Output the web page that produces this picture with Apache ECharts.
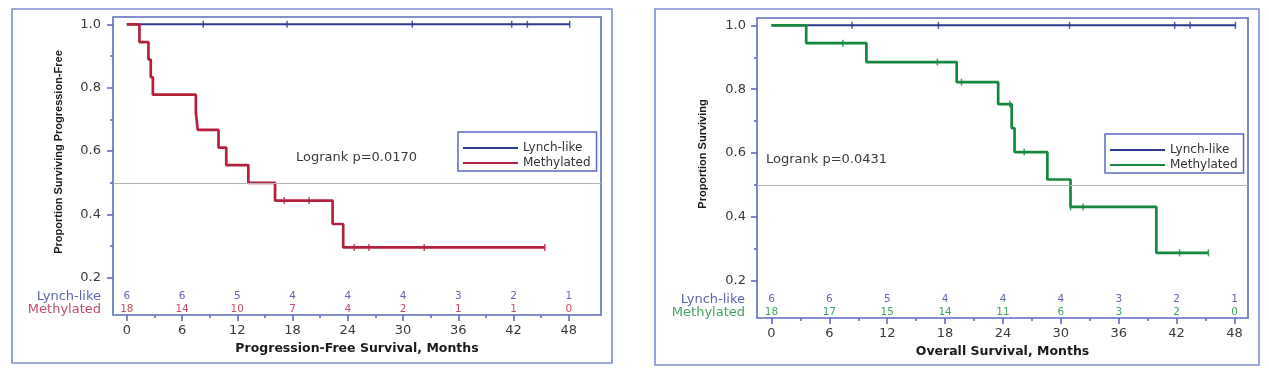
<!DOCTYPE html>
<html><head><meta charset="utf-8">
<script src="https://cdn.jsdelivr.net/npm/echarts@6/dist/echarts.min.js"></script>
<style>
html,body{margin:0;padding:0;background:#fff;}
#c1{position:absolute;left:0;top:0;width:634px;height:374px;}
#c2{position:absolute;left:634px;top:0;width:635px;height:374px;}
</style></head><body>
<div id="c1"></div><div id="c2"></div>
<script>
// ---- shared axis values ----
const riskTimes = [0, 6, 12, 18, 24, 30, 36, 42, 48];
const xTicks = [0, 6, 12, 18, 24, 30, 36, 42, 48];
const xMinorTicks = [3, 9, 15, 21, 27, 33, 39, 45];
const yTicks = [0.2, 0.4, 0.6, 0.8, 1.0];
const yMinorTicks = [0.3, 0.5, 0.7, 0.9];
const groups = ['Lynch-like', 'Methylated'];

// ---- Progression-free survival ----
const pfsLynchSteps = [[0, 1.0], [48.1, 1.0]];
const pfsLynchCensor = [[8.3, 1.0], [17.4, 1.0], [31.0, 1.0], [41.8, 1.0], [43.5, 1.0], [48.1, 1.0]];
const pfsMethSteps = [[0, 1.0], [1.37, 0.944], [2.35, 0.889], [2.6, 0.833], [2.83, 0.778], [7.5, 0.722], [7.7, 0.667], [9.96, 0.611], [10.8, 0.556], [13.2, 0.5], [16.1, 0.444], [22.35, 0.370], [23.5, 0.296], [45.4, 0.296]];
const pfsMethCensor = [[17.1, 0.444], [19.8, 0.444], [24.7, 0.296], [26.3, 0.296], [32.3, 0.296], [45.4, 0.296]];
const pfsRiskLynch = [6, 6, 5, 4, 4, 4, 3, 2, 1];
const pfsRiskMeth = [18, 14, 10, 7, 4, 2, 1, 1, 0];
const pfsLogrank = 'Logrank p=0.0170';

// ---- Overall survival ----
const osLynchSteps = [[0, 1.0], [48.1, 1.0]];
const osLynchCensor = [[8.36, 1.0], [17.3, 1.0], [30.9, 1.0], [41.8, 1.0], [43.4, 1.0], [48.1, 1.0]];
const osMethSteps = [[0, 1.0], [3.6, 0.944], [9.84, 0.885], [19.2, 0.822], [23.5, 0.753], [24.9, 0.678], [25.2, 0.603], [28.6, 0.517], [31.0, 0.431], [39.9, 0.287], [45.3, 0.287]];
const osMethCensor = [[7.4, 0.944], [17.2, 0.885], [19.7, 0.822], [24.7, 0.753], [26.2, 0.603], [31.0, 0.431], [32.3, 0.431], [42.3, 0.287], [45.3, 0.287]];
const osRiskLynch = [6, 6, 5, 4, 4, 4, 3, 2, 1];
const osRiskMeth = [18, 17, 15, 14, 11, 6, 3, 2, 0];
const osLogrank = 'Logrank p=0.0431';

const riskRowY = [0.142, 0.101];

const frameColor = '#5b6bbf';
const outerColor = '#7e8ed2';
const blue = '#2b3990';
const riskBlue = '#343f9c';
const textColor = '#3a3a3a';
const sans = 'DejaVu Sans';

function makeOption(c) {
  const xMin = -1.5;
  const tickStyle = { color: frameColor, width: 1.6 };
  const noLine = { show: false, onZero: false };
  return {
    animation: false,
    grid: { left: c.grid[0], top: c.grid[1], width: c.grid[2], height: c.grid[3], show: true,
            borderColor: frameColor, borderWidth: 1.6, backgroundColor: 'transparent' },
    xAxis: [
      { type: 'value', min: xMin, max: c.xMax, position: 'bottom',
        name: c.xName, nameLocation: 'middle', nameGap: 25,
        nameTextStyle: { fontFamily: sans, fontWeight: 'bold', fontSize: 12.5, color: '#1a1a1a' },
        axisLine: noLine, splitLine: { show: false },
        axisTick: { show: true, customValues: xTicks, length: 6, lineStyle: tickStyle },
        axisLabel: { customValues: xTicks, margin: 9, fontFamily: sans, fontSize: 13, color: textColor } },
      { type: 'value', min: xMin, max: c.xMax, position: 'bottom',
        axisLine: noLine, splitLine: { show: false },
        axisTick: { show: true, customValues: xMinorTicks, length: 3, lineStyle: tickStyle },
        axisLabel: { show: false } }
    ],
    yAxis: [
      { type: 'value', min: 0.083, max: 1.023, position: 'left',
        name: c.yName, nameLocation: 'middle', nameRotate: 90, nameGap: c.yNameGap,
        nameTextStyle: { fontFamily: 'Liberation Sans', fontWeight: 'bold', fontSize: 11, color: '#1a1a1a', padding: [0, 0, 0, 28] },
        axisLine: noLine, splitLine: { show: false },
        axisTick: { show: true, customValues: yTicks, length: 6, lineStyle: tickStyle },
        axisLabel: { customValues: yTicks, margin: c.yLabelMargin, fontFamily: sans, fontSize: 13, color: textColor,
                     formatter: v => v.toFixed(1) } },
      { type: 'value', min: 0.083, max: 1.023, position: 'left',
        axisLine: noLine, splitLine: { show: false },
        axisTick: { show: true, customValues: yMinorTicks, length: 3, lineStyle: tickStyle },
        axisLabel: { show: false } }
    ],
    legend: { left: c.legend[0], top: c.legend[1], orient: 'vertical', data: groups, icon: 'rect',
              itemWidth: 55, itemHeight: 2, itemGap: 1, padding: [9, 6, 1, 5],
              borderColor: frameColor, borderWidth: 1.5,
              textStyle: { fontFamily: sans, fontSize: 12, color: '#333', lineHeight: 14 } },
    graphic: [
      { type: 'rect', shape: { x: c.frame[0], y: c.frame[1], width: c.frame[2], height: c.frame[3] },
        style: { fill: 'none', stroke: outerColor, lineWidth: 1.6 }, silent: true },
      { type: 'text', left: c.stat[0], top: c.stat[1],
        style: { text: c.statText, fontFamily: sans, fontSize: 13, fill: textColor } }
    ],
    series: [
      { name: groups[0], type: 'line', step: 'end', data: c.lynchSteps, symbol: 'none', z: 3,
        itemStyle: { color: blue }, lineStyle: { color: blue, width: 2 },
        markLine: { silent: true, symbol: 'none', label: { show: false },
                    lineStyle: { color: '#b4b4b4', width: 1.2, type: 'solid' }, data: [{ yAxis: 0.5 }] } },
      { name: groups[1], type: 'line', step: 'end', data: c.methSteps, symbol: 'none', z: 4,
        itemStyle: { color: c.color }, lineStyle: { color: c.color, width: 2.7 } },
      { name: 'Lynch-like censored', type: 'scatter', data: c.lynchCensor, symbol: 'rect',
        symbolSize: [1.5, 7], itemStyle: { color: blue }, z: 5 },
      { name: 'Methylated censored', type: 'scatter', data: c.methCensor, symbol: 'rect',
        symbolSize: [1.5, 7], itemStyle: { color: c.color }, z: 5 },
      { name: 'risk Lynch-like', type: 'scatter', symbolSize: 0,
        data: riskTimes.map((t, i) => [t, riskRowY[0], c.riskLynch[i]]),
        label: { show: true, position: 'inside', formatter: p => String(p.value[2]),
                 fontFamily: sans, fontSize: 10.5, color: riskBlue } },
      { name: 'risk Methylated', type: 'scatter', symbolSize: 0,
        data: riskTimes.map((t, i) => [t, riskRowY[1], c.riskMeth[i]]),
        label: { show: true, position: 'inside', formatter: p => String(p.value[2]),
                 fontFamily: sans, fontSize: 10.5, color: c.riskColor } },
      { name: 'risk rows', type: 'scatter', symbolSize: 0, clip: false,
        data: [
          { value: [xMin, riskRowY[0], groups[0]], label: { color: riskBlue } },
          { value: [xMin, riskRowY[1], groups[1]], label: { color: c.riskColor } }
        ],
        label: { show: true, position: 'left', distance: 12, formatter: p => p.value[2],
                 fontFamily: sans, fontSize: 13 } }
    ]
  };
}

const c1 = echarts.init(document.getElementById('c1'), null, { renderer: 'canvas' });
c1.setOption(makeOption({
  grid: [113, 17, 488, 298], xMax: 51.5, frame: [12, 9, 600, 354],
  xName: 'Progression-Free Survival, Months', yName: 'Proportion Surviving Progression-Free',
  yNameGap: 49, yLabelMargin: 12,
  legend: [458, 132], stat: [296, 151], statText: pfsLogrank,
  lynchSteps: pfsLynchSteps, lynchCensor: pfsLynchCensor, methSteps: pfsMethSteps, methCensor: pfsMethCensor,
  riskLynch: pfsRiskLynch, riskMeth: pfsRiskMeth, color: '#b3213f', riskColor: '#b0203f'
}));

const c2 = echarts.init(document.getElementById('c2'), null, { renderer: 'canvas' });
c2.setOption(makeOption({
  grid: [123, 18, 491, 300], xMax: 49.4, frame: [21, 9, 604, 356],
  xName: 'Overall Survival, Months', yName: 'Proportion Surviving',
  yNameGap: 49, yLabelMargin: 11,
  legend: [471, 134], stat: [132, 153], statText: osLogrank,
  lynchSteps: osLynchSteps, lynchCensor: osLynchCensor, methSteps: osMethSteps, methCensor: osMethCensor,
  riskLynch: osRiskLynch, riskMeth: osRiskMeth, color: '#15883f', riskColor: '#178a3c'
}));
</script>
</body></html>
